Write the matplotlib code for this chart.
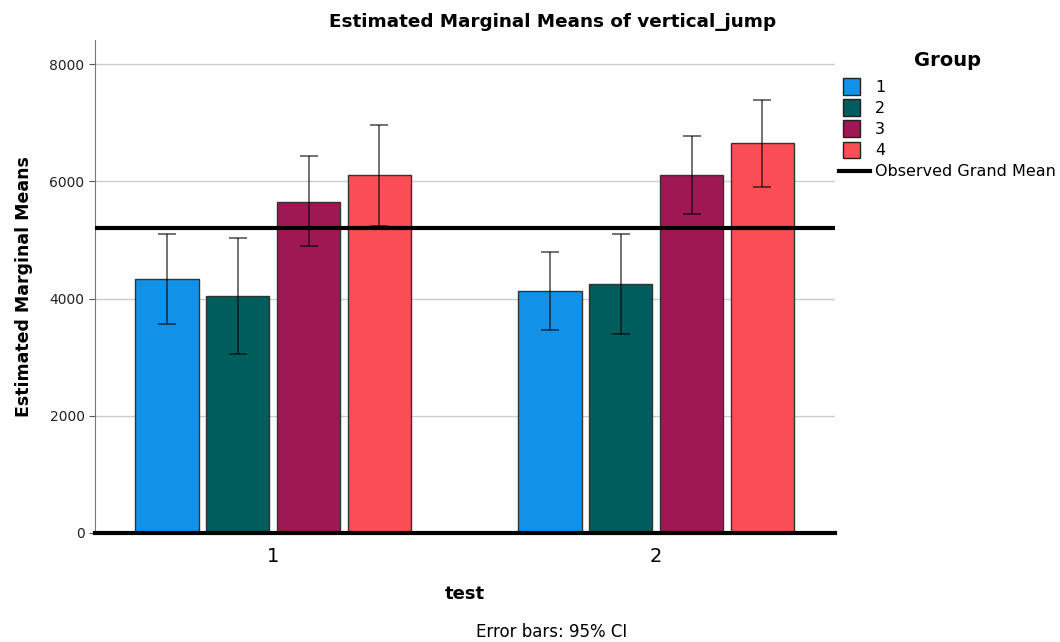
import matplotlib.pyplot as plt
from matplotlib.patches import Patch, Rectangle
from matplotlib.lines import Line2D
from matplotlib.legend_handler import HandlerPatch
import numpy as np

# data
tests = ["1", "2"]
groups = ["1", "2", "3", "4"]
colors = ["#1192e8", "#005d5d", "#9f1853", "#fa4d56"]

means = {
    "1": [4330, 4135],
    "2": [4040, 4255],
    "3": [5655, 6100],
    "4": [6100, 6645],
}
ci_low = {
    "1": [3560, 3470],
    "2": [3050, 3395],
    "3": [4895, 5445],
    "4": [5235, 5900],
}
ci_high = {
    "1": [5100, 4795],
    "2": [5030, 5105],
    "3": [6435, 6765],
    "4": [6965, 7380],
}
grand_mean = 5195


class SquareHandler(HandlerPatch):
    def create_artists(self, legend, orig_handle, xdescent, ydescent,
                       width, height, fontsize, trans):
        s = height * 1.45
        x0 = -xdescent + (width - s) / 2 - 2
        y0 = -ydescent + (height - s) / 2
        r = Rectangle((x0, y0), s, s, facecolor=orig_handle.get_facecolor(),
                      edgecolor="#222222", lw=1, transform=trans)
        return [r]


fig, ax = plt.subplots(figsize=(10.6, 6.42), dpi=100)
fig.subplots_adjust(left=95/1060, right=835/1060, bottom=1-533/642, top=1-40/642)

x = np.arange(len(tests))
step = 0.185
width = 0.166
for i, g in enumerate(groups):
    pos = x + (i - 1.5) * step
    m = np.array(means[g])
    lo = m - np.array(ci_low[g])
    hi = np.array(ci_high[g]) - m
    ax.bar(pos, m, width, color=colors[i], edgecolor="#333333", lw=1, zorder=2)
    ax.errorbar(pos, m, yerr=[lo, hi], fmt="none", ecolor="black", alpha=0.6,
                elinewidth=1.3, capsize=6.5, capthick=1.3, zorder=3)

ax.axhline(grand_mean, color="black", lw=3, zorder=4)

ax.set_xlim(-0.465, 1.467)
ax.set_ylim(0, 8410)
ax.set_yticks([0, 2000, 4000, 6000, 8000])
ax.set_xticks(x)
ax.set_xticklabels(tests, fontsize=14)
ax.tick_params(axis="x", length=0, pad=10)
ax.tick_params(axis="y", labelsize=10, colors="#555555", labelcolor="#222222", length=4)
ax.yaxis.grid(True, color="#cccccc", lw=1)
ax.set_axisbelow(True)

for s in ["top", "right"]:
    ax.spines[s].set_visible(False)
ax.spines["left"].set_color("#777777")
ax.spines["bottom"].set_color("black")
ax.spines["bottom"].set_linewidth(3)
ax.spines["bottom"].set_zorder(5)

fig.text(553/1060, 1-22/642, "Estimated Marginal Means of vertical_jump",
         fontsize=13.2, fontweight="bold", ha="center", va="center")
ax.set_ylabel("Estimated Marginal Means", fontsize=12.5, fontweight="bold", labelpad=12)
ax.set_xlabel("test", fontsize=13, fontweight="bold", labelpad=14)

fig.text(552/1060, 1-632/642, "Error bars: 95% CI", fontsize=12, ha="center", va="center")

handles = [Patch(facecolor=c) for c in colors]
handles.append(Line2D([], [], color="black", lw=3))
labels = groups + ["Observed Grand Mean"]
leg = ax.legend(handles, labels, title="Group", loc="upper left",
                bbox_to_anchor=(0.997, 0.99), frameon=False, fontsize=11.5,
                handlelength=1.9, handletextpad=0.35, labelspacing=0.38,
                borderaxespad=0, handler_map={Patch: SquareHandler()},
                title_fontproperties={"weight": "bold", "size": 14})
leg._legend_box.align = "center"
leg._legend_box.sep = 7

fig.savefig("out.png", dpi=100)
